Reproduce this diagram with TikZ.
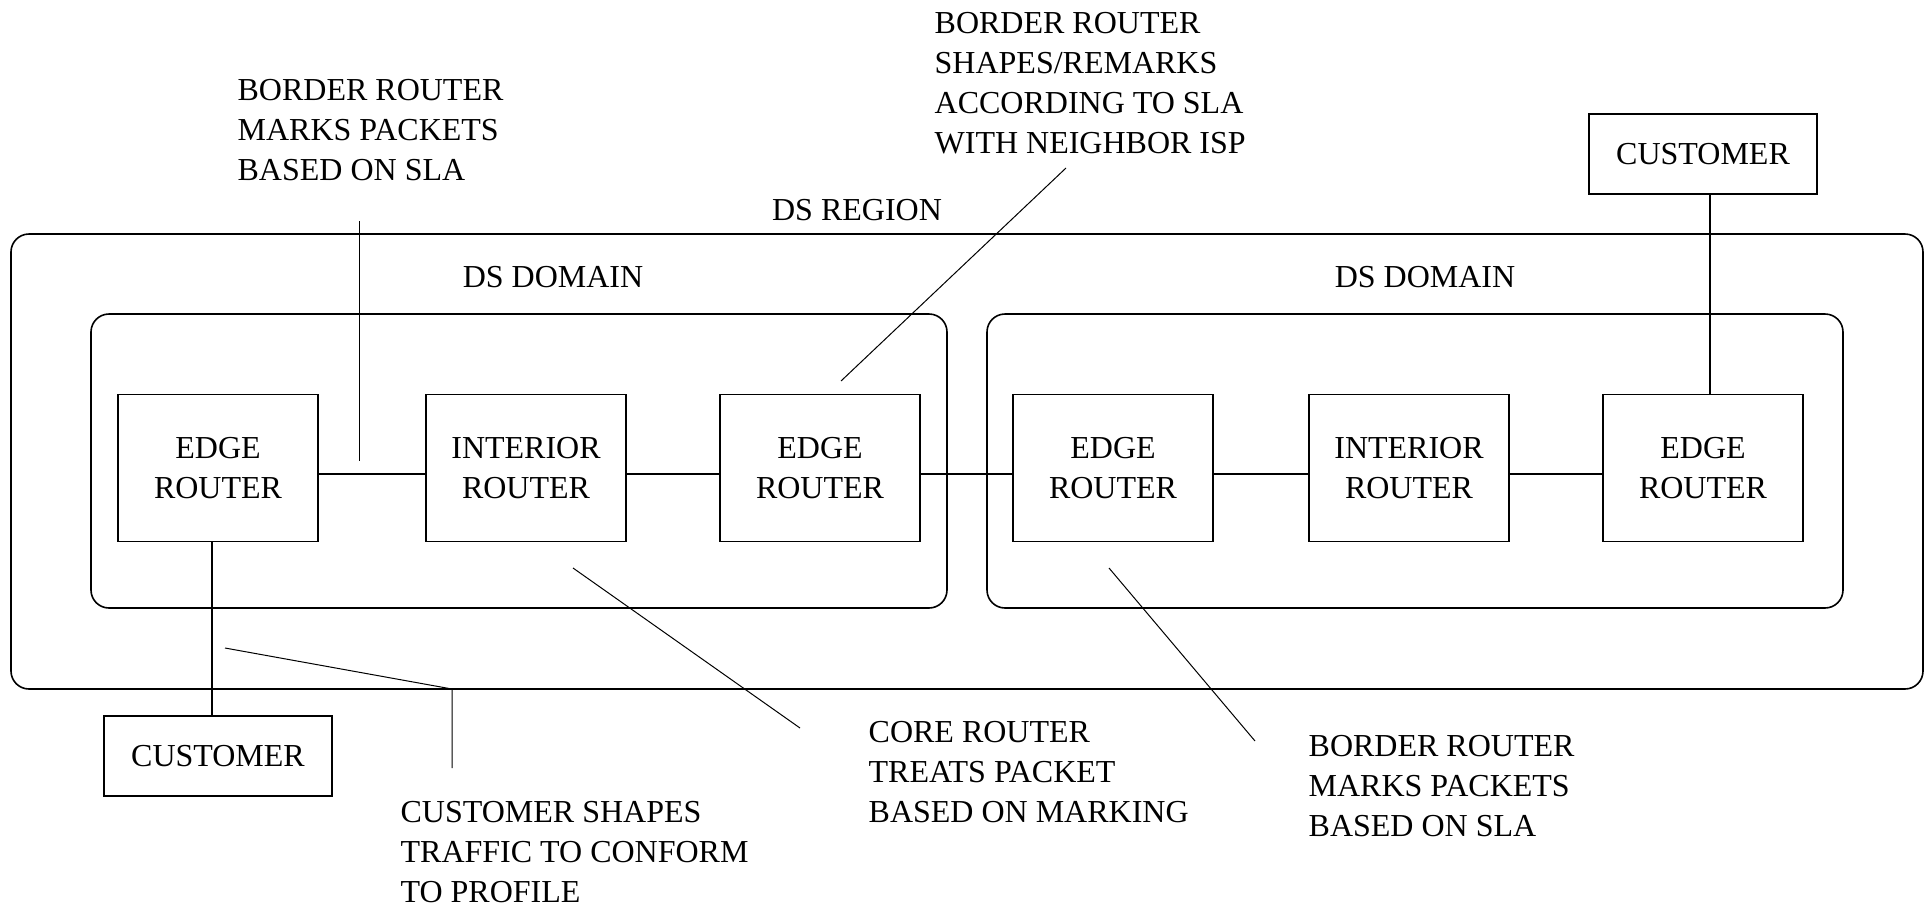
\documentclass[tikz,border=0pt]{standalone}
\usepackage{fontspec}
\setmainfont{Liberation Serif}
\usetikzlibrary{positioning}

\begin{document}
\begin{tikzpicture}[x=1pt,y=-1pt,line width=1.3pt,
		every node/.style={font=\fontsize{32}{40}\selectfont},
		area/.style={draw,line width=1.6pt,rounded corners=18pt,inner sep=0pt},
		router/.style={draw,align=center,minimum width=200pt,minimum height=147pt,inner sep=0pt},
		custbox/.style={draw,minimum width=228pt,minimum height=80pt,inner sep=0pt},
		note/.style={align=left,anchor=west,inner sep=0pt},
		leader/.style={line width=1pt}]
		\useasboundingbox (0,0) rectangle (1928,906);
		% Region and the two domains
		\node[area,minimum width=1912pt,minimum height=455pt] (region) at (967,461.5) {};
		\node[area,minimum width=856pt,minimum height=294pt] (domA) at (519,461) {};
		\node[area,minimum width=856pt,minimum height=294pt] (domB) at (1415,461) {};
		\node (regionlbl) at (857,210) {DS REGION};
		\node (domAlbl) at (553,277) {DS DOMAIN};
		\node (domBlbl) at (1425,277) {DS DOMAIN};
		
		% Routers, left to right
		\foreach \x/\n/\t in {218/ra/EDGE, 526/rb/INTERIOR, 820/rc/EDGE, 1113/rd/EDGE, 1409/re/INTERIOR, 1703/rf/EDGE}{
			\node[router] (\n) at (\x,468) {\t\\ROUTER};
		}
		% links sit a little below the middle of the boxes
		\foreach \a/\b in {ra/rb, rb/rc, rc/rd, rd/re, re/rf}{
			\draw ([yshift=-6pt]\a.east) -- ([yshift=-6pt]\b.west);
		}
		
		% Customers
		\node[custbox] (cb) at (218,756) {CUSTOMER};
		\node[custbox] (ct) at (1703,154) {CUSTOMER};
		\draw ([xshift=-6pt]ra.south) -- ([xshift=-6pt]ra.south |- cb.north);
		\draw ([xshift=7pt]rf.north) -- ([xshift=7pt]rf.north |- ct.south);
		
		% Notes
		\node[note] (n1) at (237,130) {BORDER ROUTER\\MARKS PACKETS\\BASED ON SLA};
		\node[note] (n2) at (934,83) {BORDER ROUTER\\SHAPES/REMARKS\\ACCORDING TO SLA\\WITH NEIGHBOR ISP};
		\node[note] (n3) at (868,772) {CORE ROUTER\\TREATS PACKET\\BASED ON MARKING};
		\node[note] (n4) at (1308,786) {BORDER ROUTER\\MARKS PACKETS\\BASED ON SLA};
		\node[note] (n5) at (400,852) {CUSTOMER SHAPES\\TRAFFIC TO CONFORM\\TO PROFILE};
		
		% Leader lines of the notes
		\coordinate (l1a) at (359,221);  \coordinate (l1b) at (359,461);
		\coordinate (l2a) at (1066,168); \coordinate (l2b) at (841,381);
		\coordinate (l3a) at (573,568);  \coordinate (l3b) at (800,728);
		\coordinate (l4a) at (1109,568); \coordinate (l4b) at (1255,741);
		\coordinate (l5a) at (225,648);  \coordinate (l5b) at (452,689); \coordinate (l5c) at (452,768);
		\draw[leader] (l1a) -- (l1b);
		\draw[leader] (l2a) -- (l2b);
		\draw[leader] (l3a) -- (l3b);
		\draw[leader] (l4a) -- (l4b);
		\draw[leader] (l5a) -- (l5b) -- (l5c);
\end{tikzpicture}
\end{document}
